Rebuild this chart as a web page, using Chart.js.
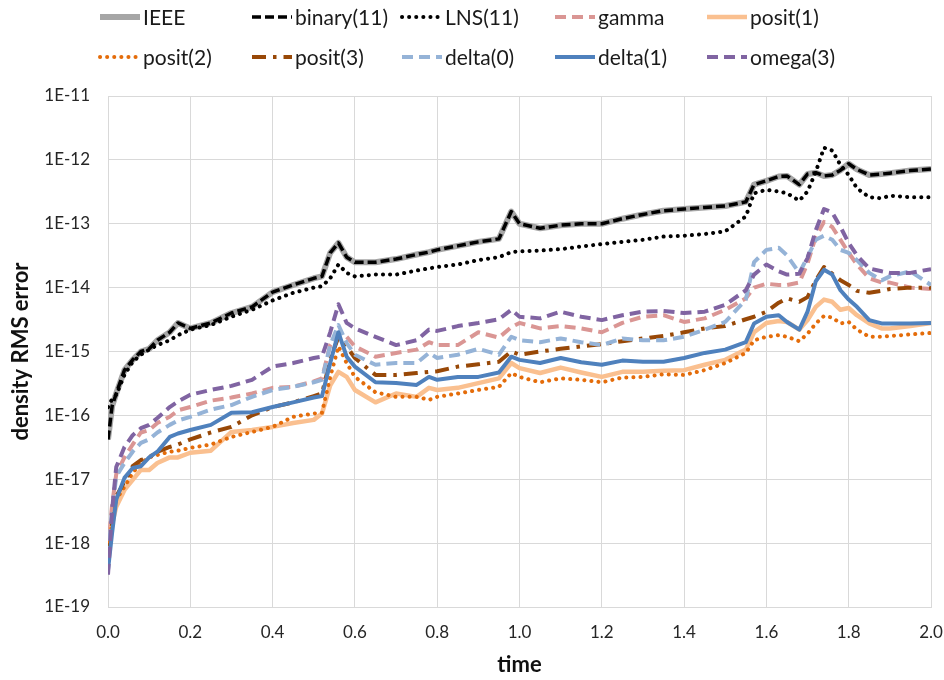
<!DOCTYPE html>
<html>
<head>
<meta charset="utf-8">
<script src="https://cdn.jsdelivr.net/npm/chart.js@4"></script>
<style>
  body { margin: 0; background: #fff; }
</style>
</head>
<body>
<canvas id="chart" width="944" height="680"></canvas>
<script>
// time samples shared by every series
const times = [0, 0.01, 0.02, 0.04, 0.06, 0.08, 0.1, 0.12, 0.15, 0.17,
  0.2, 0.25, 0.3, 0.35, 0.4, 0.45, 0.5, 0.52, 0.54, 0.56,
  0.58, 0.6, 0.65, 0.7, 0.75, 0.78, 0.8, 0.85, 0.9, 0.95,
  0.98, 1.0, 1.05, 1.1, 1.15, 1.2, 1.25, 1.3, 1.35, 1.4,
  1.45, 1.5, 1.55, 1.57, 1.6, 1.63, 1.65, 1.68, 1.7, 1.72,
  1.74, 1.76, 1.78, 1.8, 1.82, 1.85, 1.88, 1.9, 1.95, 2.0];

const ieee = [4.2e-17, 1.4e-16, 2.2e-16, 5.1e-16, 7.4e-16, 1.0e-15, 1.1e-15, 1.5e-15, 2.0e-15, 2.8e-15,
  2.3e-15, 2.8e-15, 4.0e-15, 5.0e-15, 8.5e-15, 1.1e-14, 1.4e-14, 1.5e-14, 3.5e-14, 5.0e-14,
  3.0e-14, 2.5e-14, 2.5e-14, 2.8e-14, 3.3e-14, 3.6e-14, 3.9e-14, 4.5e-14, 5.2e-14, 5.8e-14,
  1.55e-13, 1.0e-13, 8.5e-14, 9.5e-14, 1.0e-13, 1.0e-13, 1.2e-13, 1.4e-13, 1.6e-13, 1.7e-13,
  1.8e-13, 1.9e-13, 2.2e-13, 4.1e-13, 4.7e-13, 5.5e-13, 5.6e-13, 4.1e-13, 6.0e-13, 6.3e-13,
  5.6e-13, 5.8e-13, 6.9e-13, 8.7e-13, 7.1e-13, 5.8e-13, 6.0e-13, 6.2e-13, 6.8e-13, 7.2e-13];

const binary11 = [4.2e-17, 1.4e-16, 2.2e-16, 5.1e-16, 7.4e-16, 1.0e-15, 1.1e-15, 1.5e-15, 2.0e-15, 2.8e-15,
  2.3e-15, 2.8e-15, 4.0e-15, 5.0e-15, 8.5e-15, 1.1e-14, 1.4e-14, 1.5e-14, 3.5e-14, 5.0e-14,
  3.0e-14, 2.5e-14, 2.5e-14, 2.8e-14, 3.3e-14, 3.6e-14, 3.9e-14, 4.5e-14, 5.2e-14, 5.8e-14,
  1.55e-13, 1.0e-13, 8.5e-14, 9.5e-14, 1.0e-13, 1.0e-13, 1.2e-13, 1.4e-13, 1.6e-13, 1.7e-13,
  1.8e-13, 1.9e-13, 2.2e-13, 4.1e-13, 4.7e-13, 5.5e-13, 5.6e-13, 4.1e-13, 6.0e-13, 6.3e-13,
  5.6e-13, 5.8e-13, 6.9e-13, 8.7e-13, 7.1e-13, 5.8e-13, 6.0e-13, 6.2e-13, 6.8e-13, 7.2e-13];

const lns11 = [1.35e-16, 1.8e-16, 2.1e-16, 4.3e-16, 6.9e-16, 8.9e-16, 1.07e-15, 1.26e-15, 1.5e-15, 1.8e-15,
  2.2e-15, 2.6e-15, 3.5e-15, 4.5e-15, 6.3e-15, 8.3e-15, 1.0e-14, 1.05e-14, 1.4e-14, 2.3e-14,
  1.7e-14, 1.5e-14, 1.6e-14, 1.6e-14, 1.85e-14, 2.0e-14, 2.1e-14, 2.3e-14, 2.7e-14, 3.0e-14,
  3.6e-14, 3.7e-14, 3.8e-14, 4.0e-14, 4.4e-14, 4.8e-14, 5.2e-14, 5.6e-14, 6.3e-14, 6.5e-14,
  6.9e-14, 7.6e-14, 1.3e-13, 3.0e-13, 3.4e-13, 3.2e-13, 3.0e-13, 2.3e-13, 3.2e-13, 6.5e-13,
  1.55e-12, 1.4e-12, 8.3e-13, 5.8e-13, 3.6e-13, 2.6e-13, 2.5e-13, 2.75e-13, 2.6e-13, 2.6e-13];

const gamma = [8e-19, 4e-18, 1.2e-17, 2.2e-17, 3.5e-17, 5.4e-17, 5.9e-17, 7.6e-17, 9.5e-17, 1.2e-16,
  1.35e-16, 1.7e-16, 1.9e-16, 2.2e-16, 2.7e-16, 2.8e-16, 3.4e-16, 3.8e-16, 1.26e-15, 1.95e-15,
  1.7e-15, 1.2e-15, 8.3e-16, 9.5e-16, 1.07e-15, 1.4e-15, 1.26e-15, 1.26e-15, 2.0e-15, 1.65e-15,
  2.4e-15, 2.8e-15, 2.3e-15, 2.5e-15, 2.3e-15, 2.0e-15, 2.8e-15, 3.5e-15, 3.7e-15, 2.9e-15,
  3.3e-15, 4.5e-15, 6.8e-15, 1.0e-14, 1.15e-14, 1.1e-14, 1.1e-14, 1.2e-14, 2.4e-14, 6.3e-14,
  1.07e-13, 8.9e-14, 5.6e-14, 3.5e-14, 2.3e-14, 1.4e-14, 1.2e-14, 1.2e-14, 1.0e-14, 9.5e-15];

const posit1 = [8e-19, 2.0e-18, 3.7e-18, 6.8e-18, 9.8e-18, 1.4e-17, 1.4e-17, 1.8e-17, 2.2e-17, 2.2e-17,
  2.6e-17, 2.8e-17, 5.5e-17, 5.9e-17, 6.6e-17, 7.6e-17, 8.5e-17, 1.07e-16, 2.95e-16, 4.8e-16,
  4.0e-16, 2.5e-16, 1.6e-16, 2.2e-16, 1.95e-16, 2.7e-16, 2.5e-16, 2.7e-16, 3.2e-16, 3.8e-16,
  6.6e-16, 5.5e-16, 4.6e-16, 5.6e-16, 4.7e-16, 4.0e-16, 4.8e-16, 4.8e-16, 5.0e-16, 5.1e-16,
  6.2e-16, 7.4e-16, 1.07e-15, 2.0e-15, 2.8e-15, 3.0e-15, 2.9e-15, 2.2e-15, 3.1e-15, 5.0e-15,
  6.5e-15, 6.0e-15, 4.5e-15, 4.8e-15, 3.7e-15, 2.75e-15, 2.3e-15, 2.3e-15, 2.5e-15, 2.8e-15];

const posit2 = [8e-19, 2.0e-18, 4.8e-18, 7.6e-18, 1.26e-17, 1.8e-17, 2.2e-17, 2.4e-17, 2.7e-17, 2.8e-17,
  3.1e-17, 3.5e-17, 4.6e-17, 5.5e-17, 6.6e-17, 9.5e-17, 1.07e-16, 1.1e-16, 4.0e-16, 1.2e-15,
  6.6e-16, 4.0e-16, 2.3e-16, 1.95e-16, 1.95e-16, 1.75e-16, 1.95e-16, 2.2e-16, 2.5e-16, 2.8e-16,
  4.6e-16, 4.0e-16, 3.3e-16, 3.8e-16, 3.6e-16, 3.3e-16, 3.9e-16, 4.0e-16, 4.4e-16, 4.3e-16,
  5.1e-16, 6.6e-16, 9.5e-16, 1.5e-15, 1.7e-15, 1.8e-15, 1.7e-15, 1.45e-15, 1.9e-15, 2.75e-15,
  3.6e-15, 3.4e-15, 2.75e-15, 2.9e-15, 2.2e-15, 1.7e-15, 1.7e-15, 1.75e-15, 1.85e-15, 1.95e-15];

const posit3 = [6e-19, 2e-18, 5.4e-18, 9.1e-18, 1.6e-17, 2.0e-17, 2.2e-17, 2.7e-17, 3.2e-17, 3.5e-17,
  4.2e-17, 5.4e-17, 6.6e-17, 1.0e-16, 1.35e-16, 1.6e-16, 2.0e-16, 2.2e-16, 7.4e-16, 1.7e-15,
  1.2e-15, 7.9e-16, 4.3e-16, 4.3e-16, 4.6e-16, 4.8e-16, 4.9e-16, 5.8e-16, 6.3e-16, 6.9e-16,
  1.0e-15, 8.9e-16, 1.0e-15, 1.1e-15, 1.2e-15, 1.3e-15, 1.45e-15, 1.6e-15, 1.75e-15, 2.0e-15,
  2.3e-15, 2.5e-15, 3.2e-15, 3.5e-15, 4.2e-15, 5.8e-15, 6.8e-15, 6.0e-15, 7.1e-15, 1.3e-14,
  2.1e-14, 1.65e-14, 1.3e-14, 1.1e-14, 8.9e-15, 8.3e-15, 8.9e-15, 9.5e-15, 1.0e-14, 1.0e-14];

const delta0 = [6e-19, 3.2e-18, 1.1e-17, 1.8e-17, 2.7e-17, 3.7e-17, 4.2e-17, 5.4e-17, 7.1e-17, 8.3e-17,
  9.5e-17, 1.23e-16, 1.45e-16, 1.95e-16, 2.5e-16, 2.8e-16, 3.3e-16, 3.6e-16, 1.26e-15, 2.6e-15,
  1.35e-15, 8.9e-16, 6.2e-16, 6.6e-16, 6.6e-16, 9.5e-16, 7.9e-16, 8.9e-16, 1.1e-15, 8.9e-16,
  1.7e-15, 1.5e-15, 1.4e-15, 1.6e-15, 1.4e-15, 1.26e-15, 1.6e-15, 1.5e-15, 1.5e-15, 1.7e-15,
  2.2e-15, 2.9e-15, 6.5e-15, 2.5e-14, 3.9e-14, 4.2e-14, 3.2e-14, 1.7e-14, 3.0e-14, 5.6e-14,
  6.5e-14, 5.6e-14, 3.9e-14, 3.5e-14, 2.7e-14, 1.7e-14, 1.3e-14, 1.5e-14, 1.8e-14, 1.1e-14];

const delta1 = [3.8e-19, 1.45e-18, 4.8e-18, 1.05e-17, 1.5e-17, 1.6e-17, 2.2e-17, 2.7e-17, 4.6e-17, 5.2e-17,
  5.9e-17, 7.1e-17, 1.1e-16, 1.12e-16, 1.35e-16, 1.6e-16, 1.9e-16, 2.0e-16, 6.6e-16, 2.0e-15,
  8.3e-16, 5.8e-16, 3.3e-16, 3.2e-16, 3.0e-16, 4.0e-16, 3.6e-16, 4.0e-16, 4.0e-16, 4.7e-16,
  8.3e-16, 7.4e-16, 6.6e-16, 7.9e-16, 6.8e-16, 6.2e-16, 7.2e-16, 6.9e-16, 6.9e-16, 7.9e-16,
  9.5e-16, 1.07e-15, 1.4e-15, 2.75e-15, 3.5e-15, 3.7e-15, 2.9e-15, 2.2e-15, 4.2e-15, 1.26e-14,
  1.9e-14, 1.6e-14, 9.1e-15, 6.5e-15, 5.0e-15, 3.1e-15, 2.75e-15, 2.75e-15, 2.75e-15, 2.8e-15];

const omega3 = [3.2e-19, 3.3e-18, 1.55e-17, 3.2e-17, 4.9e-17, 6.3e-17, 7.1e-17, 9.1e-17, 1.35e-16, 1.65e-16,
  2.1e-16, 2.5e-16, 2.9e-16, 3.6e-16, 5.8e-16, 6.6e-16, 7.9e-16, 8.3e-16, 2.0e-15, 5.5e-15,
  2.8e-15, 2.3e-15, 1.7e-15, 1.26e-15, 1.5e-15, 2.2e-15, 2.1e-15, 2.5e-15, 2.8e-15, 3.2e-15,
  4.5e-15, 3.5e-15, 3.3e-15, 4.2e-15, 3.5e-15, 3.1e-15, 3.7e-15, 4.2e-15, 4.3e-15, 4.0e-15,
  4.2e-15, 5.4e-15, 9.1e-15, 1.6e-14, 2.3e-14, 1.8e-14, 1.6e-14, 1.65e-14, 2.9e-14, 7.9e-14,
  1.7e-13, 1.5e-13, 8.9e-14, 5.0e-14, 3.2e-14, 2.0e-14, 1.8e-14, 1.7e-14, 1.7e-14, 1.95e-14];

const yTickValues = [1e-19, 1e-18, 1e-17, 1e-16, 1e-15, 1e-14, 1e-13, 1e-12, 1e-11];
const yTickLabels = ['1E-19', '1E-18', '1E-17', '1E-16', '1E-15', '1E-14', '1E-13', '1E-12', '1E-11'];

const FONT = "Lato, 'Open Sans', sans-serif";
Chart.defaults.font.family = FONT;

function series(label, values, colour, width, dash, cap) {
  return {
    label: label,
    data: values.map((v, i) => ({ x: times[i], y: v })),
    borderColor: colour,
    backgroundColor: colour,
    borderWidth: width,
    borderDash: dash,
    borderCapStyle: cap || 'butt',
    borderJoinStyle: 'round',
    pointRadius: 0,
    tension: 0,
    fill: false
  };
}

const datasets = [
  series('IEEE', ieee, '#a6a6a6', 6, []),
  series('binary(11)', binary11, '#000000', 3.5, [9, 4]),
  series('LNS(11)', lns11, '#000000', 4, [0.1, 7], 'round'),
  series('gamma', gamma, '#da9694', 4, [11, 6]),
  series('posit(1)', posit1, '#fac090', 4.5, []),
  series('posit(2)', posit2, '#e46c0a', 4, [0.1, 7], 'round'),
  series('posit(3)', posit3, '#984807', 4, [14, 7, 3.5, 7]),
  series('delta(0)', delta0, '#95b3d7', 4, [11, 6]),
  series('delta(1)', delta1, '#4f81bd', 4, []),
  series('omega(3)', omega3, '#8064a2', 4, [11, 6])
];
// excel paints series in order, so later ones sit on top
datasets.forEach((d, i) => { d.order = datasets.length - i; });

// legend laid out as a fixed grid like the original
const legendCols = [100, 252, 402, 555, 707];
const gridLegend = {
  id: 'gridLegend',
  afterDraw(chart) {
    const ctx = chart.ctx;
    chart.data.datasets.forEach((ds, i) => {
      const x = legendCols[i % 5];
      const y = 17 + Math.floor(i / 5) * 40;
      ctx.save();
      ctx.strokeStyle = ds.borderColor;
      ctx.lineWidth = ds.borderWidth;
      ctx.lineCap = ds.borderCapStyle;
      ctx.setLineDash(ds.borderDash);
      ctx.beginPath();
      ctx.moveTo(x, y);
      ctx.lineTo(x + 40, y);
      ctx.stroke();
      ctx.setLineDash([]);
      ctx.fillStyle = '#1a1a1a';
      ctx.font = '21px ' + FONT;
      ctx.textBaseline = 'middle';
      ctx.fillText(ds.label, x + 43, y + 1);
      ctx.restore();
    });
  }
};

new Chart(document.getElementById('chart'), {
  type: 'line',
  data: { datasets: datasets },
  plugins: [gridLegend],
  options: {
    responsive: false,
    animation: false,
    layout: { padding: { top: 96, right: 13, left: 0, bottom: 0 } },
    plugins: {
      legend: { display: false },
      tooltip: { enabled: false }
    },
    scales: {
      x: {
        type: 'linear',
        min: 0,
        max: 2,
        ticks: {
          stepSize: 0.2,
          maxRotation: 0,
          padding: 15,
          color: '#262626',
          font: { size: 17 },
          callback: v => v.toFixed(1)
        },
        grid: { color: '#d9d9d9', drawTicks: false },
        border: { color: '#d9d9d9' },
        title: {
          display: true,
          text: 'time',
          color: '#111',
          font: { size: 22, weight: 'bold' },
          padding: { top: 0, bottom: 2 }
        },
        afterFit: s => {
          s.height = 73;
          s.paddingLeft = 0;
          s.paddingRight = 0;
        }
      },
      y: {
        type: 'logarithmic',
        min: 1e-19,
        max: 1e-11,
        afterBuildTicks: s => { s.ticks = yTickValues.map(v => ({ value: v })); },
        ticks: {
          padding: 18,
          color: '#262626',
          font: { size: 17 },
          callback: (v, i) => yTickLabels[i]
        },
        grid: { color: '#d9d9d9', drawTicks: false },
        border: { color: '#d9d9d9' },
        title: {
          display: true,
          text: 'density RMS error',
          color: '#111',
          font: { size: 22, weight: 'bold' },
          padding: { top: 8, bottom: 0 }
        },
        afterFit: s => {
          s.width = 108;
          s.paddingTop = 0;
          s.paddingBottom = 0;
        }
      }
    }
  }
});
</script>
</body>
</html>
